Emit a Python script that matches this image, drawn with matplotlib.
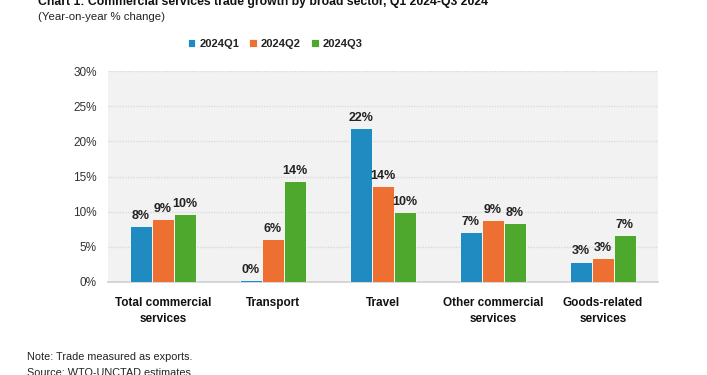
import numpy as np
import matplotlib.pyplot as plt

plt.rcParams['font.family'] = ['Liberation Sans', 'DejaVu Sans']

categories = ['Total commercial\nservices', 'Transport', 'Travel',
              'Other commercial\nservices', 'Goods-related\nservices']
series_names = ['2024Q1', '2024Q2', '2024Q3']
q1 = [8.0, 0.3, 21.9, 7.1, 2.9]
q2 = [9.0, 6.1, 13.6, 8.8, 3.4]
q3 = [9.6, 14.4, 9.9, 8.4, 6.7]
yticks = [0, 5, 10, 15, 20, 25, 30]

colors = ['#1f8bc1', '#ed7032', '#4ea82e']

fig = plt.figure(figsize=(7.07, 3.75), dpi=100)
ax = fig.add_axes([108 / 707, 93 / 375, 550 / 707, 211 / 375])
ax.set_facecolor('#f2f2f2')

x = np.arange(len(categories))
w = 0.2
for i, (vals, name) in enumerate(zip([q1, q2, q3], series_names)):
    pos = x + (i - 1) * w
    bars = ax.bar(pos, vals, width=w, color=colors[i], label=name,
                  edgecolor='white', linewidth=0.6, zorder=3)
    for b, v in zip(bars, vals):
        ax.annotate(f'{v:.0f}%', (b.get_x() + b.get_width() / 2, v),
                    xytext=(0, 3), textcoords='offset points',
                    ha='center', va='bottom', fontsize=9,
                    fontweight='bold', color='#222222')

ax.set_xlim(-0.5, 4.5)
ax.set_ylim(0, 30)
ax.set_yticks(yticks)
ax.set_yticklabels([f'{t}%' for t in yticks], fontsize=8.5, color='#333333')
ax.set_xticks(x)
ax.set_xticklabels(categories, fontsize=8.5, fontweight='bold', color='#111111',
                   linespacing=1.5)
ax.tick_params(axis='both', length=0)
ax.tick_params(axis='x', pad=10.5)
ax.tick_params(axis='y', pad=8)
ax.grid(axis='y', color='#d9d9d9', linestyle=(0, (1, 1)), linewidth=1, zorder=0)
for s in ['top', 'right', 'left']:
    ax.spines[s].set_visible(False)
ax.spines['bottom'].set_color('#d0d0d0')
ax.spines['bottom'].set_linewidth(1.2)

leg = ax.legend(loc='center', bbox_to_anchor=(275 / 707, 1 - 44 / 375),
                bbox_transform=fig.transFigure, ncol=3, frameon=False,
                fontsize=8, handlelength=0.7, handleheight=0.7,
                handletextpad=0.35, columnspacing=0.9)
for t in leg.get_texts():
    t.set_fontweight('bold')
    t.set_color('#222222')

fig.text(38 / 707, 1 - 5 / 375,
         'Chart 1: Commercial services trade growth by broad sector, Q1 2024-Q3 2024',
         fontsize=8.8, fontweight='bold', va='baseline', ha='left', color='#111111')
fig.text(38 / 707, 1 - 17 / 375, '(Year-on-year % change)', fontsize=8.2,
         va='center', ha='left', color='#222222')
fig.text(27 / 707, 1 - 357 / 375, 'Note: Trade measured as exports.', fontsize=7.8,
         va='center', ha='left', color='#222222')
fig.text(27 / 707, 1 - 373 / 375, 'Source: WTO-UNCTAD estimates.', fontsize=7.8,
         va='center', ha='left', color='#222222')

fig.savefig('out.png', dpi=100)
